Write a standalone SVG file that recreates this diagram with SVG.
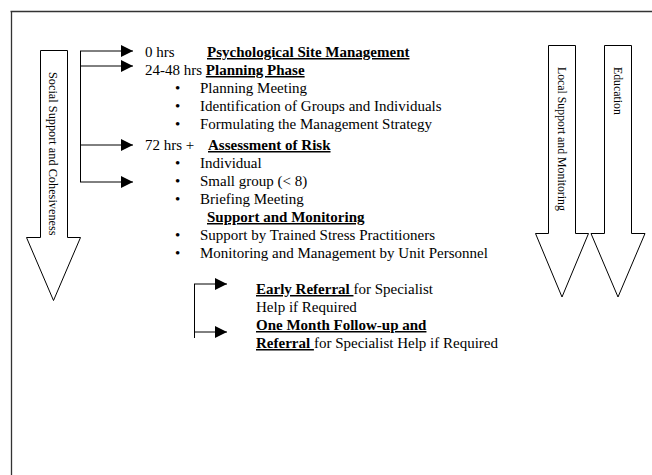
<svg xmlns="http://www.w3.org/2000/svg" width="652" height="475" viewBox="0 0 652 475">
<style>
text{font-family:"Liberation Serif","Times New Roman",serif;fill:#000}
.t{font-size:15px}
.b{font-weight:bold;text-decoration:underline}
.r{font-size:11.8px}
.big{fill:#fff;stroke:#000;stroke-width:1}
.c{fill:none;stroke:#000;stroke-width:1}
.frame{stroke:#333;stroke-width:1.3;fill:none}
</style>
<defs>
<marker id="ah" markerUnits="userSpaceOnUse" markerWidth="12" markerHeight="12" refX="10" refY="5" orient="auto" viewBox="0 0 10 10">
<path d="M0,0 L10,5 L0,10 Z" fill="#000"/>
</marker>
</defs>
<g id="frame">
<path class="frame" d="M10.5,11.5 H652 M11.5,11 V475"/>
</g>
<g id="social-support">
<path class="big" d="M40.5,50.5 H67.5 V237.5 H80.5 L53.5,300.5 L26.5,237.5 H40.5 Z"/>
<text class="r" style="font-size:12.3px" transform="translate(49,72) rotate(90)">Social Support and Cohesiveness</text>
</g>
<g id="local-support">
<path class="big" d="M548.5,45.5 H575.5 V233.5 H588.5 L562,297 L535.5,233.5 H548.5 Z"/>
<text class="r" transform="translate(558,67) rotate(90)">Local Support and Monitoring</text>
</g>
<g id="education">
<path class="big" d="M604.5,45.5 H631.5 V233.5 H645 L618,297 L591,233.5 H604.5 Z"/>
<text class="r" transform="translate(614,67) rotate(90)">Education</text>
</g>
<g id="connectors">
<path class="c" d="M80.5,51 V182"/>
<path class="c" d="M80,51 H133" marker-end="url(#ah)"/>
<path class="c" d="M80,66 H133" marker-end="url(#ah)"/>
<path class="c" d="M80,145 H133" marker-end="url(#ah)"/>
<path class="c" d="M80,182 H133" marker-end="url(#ah)"/>
<path class="c" d="M194.5,284 V338"/>
<path class="c" d="M194,284 H227" marker-end="url(#ah)"/>
<path class="c" d="M194,332 H227" marker-end="url(#ah)"/>
</g>
<g id="timeline-text">
<text class="t" x="145" y="57">0 hrs</text>
<text class="t" x="207" y="57"><tspan class="b">Psychological Site Management</tspan></text>
<text class="t" x="145" y="75">24-48 hrs <tspan class="b">Planning Phase</tspan></text>
<text class="t" x="175" y="93">•</text><text class="t" x="200" y="93">Planning Meeting</text>
<text class="t" x="175" y="111">•</text><text class="t" x="200" y="111">Identification of Groups and Individuals</text>
<text class="t" x="175" y="129">•</text><text class="t" x="200" y="129">Formulating the Management Strategy</text>
<text class="t" x="145" y="150">72 hrs +</text>
<text class="t" x="208" y="150"><tspan class="b">Assessment of Risk</tspan></text>
<text class="t" x="175" y="168">•</text><text class="t" x="200" y="168">Individual</text>
<text class="t" x="175" y="186">•</text><text class="t" x="200" y="186">Small group (&lt; 8)</text>
<text class="t" x="175" y="204">•</text><text class="t" x="200" y="204">Briefing Meeting</text>
<text class="t" x="207" y="222"><tspan class="b">Support and Monitoring</tspan></text>
<text class="t" x="175" y="240">•</text><text class="t" x="200" y="240">Support by Trained Stress Practitioners</text>
<text class="t" x="175" y="258">•</text><text class="t" x="200" y="258">Monitoring and Management by Unit Personnel</text>
<text class="t" x="256" y="294"><tspan class="b">Early Referral </tspan>for Specialist</text>
<text class="t" x="256" y="312">Help if Required</text>
<text class="t" x="256" y="330"><tspan class="b">One Month Follow-up and</tspan></text>
<text class="t" x="256" y="348"><tspan class="b">Referral </tspan>for Specialist Help if Required</text>
</g>
</svg>
